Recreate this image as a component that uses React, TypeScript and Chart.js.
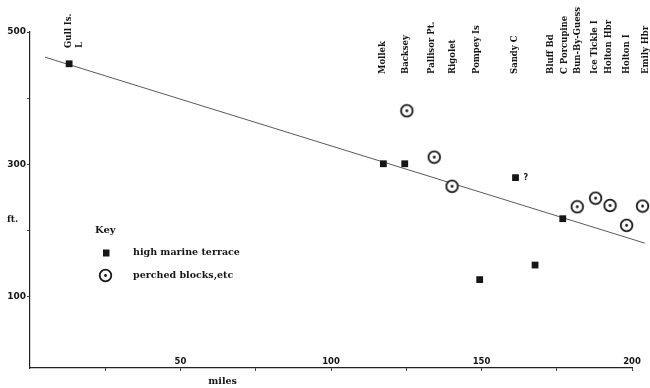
import { useEffect, useRef } from 'react';
import { Chart, registerables } from 'chart.js';

Chart.register(...registerables);

// Station labels along the top (miles along coast)
const stationNames = ['Gull Is.', 'L', 'Mollek', 'Backsey', 'Pallisor Pt.', 'Rigolet', 'Pompey Is', 'Sandy C', 'Bluff Bd', 'C Porcupine', 'Bun-By-Guess', 'Ice Tickle I', 'Holton Hbr', 'Holton I', 'Emily Hbr'];
const stationMiles = [13.0, 16.6, 117.3, 124.9, 133.6, 140.5, 148.5, 161.1, 173.1, 177.7, 182.1, 187.7, 192.4, 198.3, 204.6];

// High marine terrace (squares)
const terraceMiles = [13.0, 117.4, 124.5, 149.4, 161.3, 167.8, 177.0];
const terraceFeet = [452, 301, 301, 126, 280, 148, 218];

// Perched blocks, etc (ringed dots)
const blockMiles = [125.2, 134.3, 140.2, 181.8, 187.9, 192.7, 198.2, 203.5];
const blockFeet = [381, 311, 267, 236, 249, 238, 208, 237];

// Trend line
const trendMiles = [5.0, 204.3];
const trendFeet = [462, 181];

// Query mark
const queryMiles = [161.3];
const queryFeet = [280];
const queryText = ['?'];

const xTickValues = [25, 50, 75, 100, 125, 150, 175, 200];
const xTickLabels = ['', '50', '', '100', '', '150', '', '200'];
const yTickValues = [100, 200, 300, 400, 500];
const yTickLabels = ['100', '', '300', '', '500'];

const xTitle = 'miles';
const yTitle = 'ft.';
const legendTitle = 'Key';
const legendLabels = ['high marine terrace', 'perched blocks,etc'];

const INK = '#161616';

function makeRing(): HTMLCanvasElement {
  const c = document.createElement('canvas');
  c.width = 15;
  c.height = 15;
  const g = c.getContext('2d')!;
  g.fillStyle = '#ffffff';
  g.beginPath();
  g.arc(7.5, 7.5, 5.8, 0, Math.PI * 2);
  g.fill();
  g.lineWidth = 1.8;
  g.strokeStyle = INK;
  g.stroke();
  g.fillStyle = INK;
  g.beginPath();
  g.arc(7.5, 7.5, 1.4, 0, Math.PI * 2);
  g.fill();
  return c;
}

export default function App() {
  const ref = useRef<HTMLCanvasElement | null>(null);

  useEffect(() => {
    document.body.style.margin = '0';
    const canvas = ref.current;
    if (!canvas) return;
    const ring = makeRing();

    // let marks beyond the 200-mile axis end (as in the original) still be drawn
    let savedRight = 0;
    const overflow = {
      id: 'overflow',
      beforeDatasetsDraw(chart: any) {
        savedRight = chart.chartArea.right;
        chart.chartArea.right = chart.width;
      },
      afterDatasetsDraw(chart: any) {
        chart.chartArea.right = savedRight;
      },
    };

    const annotations = {
      id: 'annotations',
      afterDraw(chart: any) {
        const ctx: CanvasRenderingContext2D = chart.ctx;
        const xs = chart.scales.x;
        const ys = chart.scales.y;
        ctx.save();
        ctx.fillStyle = INK;

        // rotated station labels
        ctx.font = 'bold 8.5px "DejaVu Serif"';
        ctx.textAlign = 'left';
        ctx.textBaseline = 'middle';
        stationNames.forEach((name, i) => {
          const px = xs.getPixelForValue(stationMiles[i]);
          const bottom = stationMiles[i] < 50 ? 48 : 74;
          ctx.save();
          ctx.translate(px, bottom);
          ctx.rotate(-Math.PI / 2);
          ctx.fillText(name, 0, 0);
          ctx.restore();
        });

        // query mark
        ctx.font = 'bold 8px "DejaVu Sans"';
        queryText.forEach((t, i) => {
          ctx.fillText(t, xs.getPixelForValue(queryMiles[i]) + 8, ys.getPixelForValue(queryFeet[i]));
        });

        // axis titles
        ctx.font = 'bold 9px "DejaVu Serif"';
        ctx.textAlign = 'left';
        ctx.fillText(yTitle, 7, ys.getPixelForValue(216));
        ctx.textAlign = 'center';
        ctx.font = 'bold 9.5px "DejaVu Serif"';
        ctx.fillText(xTitle, xs.getPixelForValue(64), 382);

        // legend
        ctx.textAlign = 'left';
        ctx.font = 'bold 10px "DejaVu Serif"';
        ctx.fillText(legendTitle, 95, 230);
        ctx.fillRect(103, 249.5, 6.5, 7);
        ctx.drawImage(ring, 105.5 - 7.5, 275.5 - 7.5);
        ctx.font = 'bold 9.5px "DejaVu Serif"';
        ctx.fillText(legendLabels[0], 133, 253);
        ctx.fillText(legendLabels[1], 133, 275.5);
        ctx.restore();
      },
    };

    const chart = new Chart(canvas, {
      type: 'scatter',
      data: {
        datasets: [
          {
            label: legendLabels[1],
            data: blockMiles.map((m, i) => ({ x: m, y: blockFeet[i] })),
            pointStyle: ring as any,
            pointRadius: 7,
            clip: false as any,
          },
          {
            label: legendLabels[0],
            data: terraceMiles.map((m, i) => ({ x: m, y: terraceFeet[i] })),
            pointStyle: 'rect',
            pointRadius: 4.8,
            backgroundColor: INK,
            borderColor: INK,
            borderWidth: 0,
            clip: false as any,
          },
          {
            label: 'trend',
            data: trendMiles.map((m, i) => ({ x: m, y: trendFeet[i] })),
            showLine: true,
            pointRadius: 0,
            borderColor: '#5a5a5a',
            borderWidth: 1,
            clip: false as any,
          },
        ],
      },
      options: {
        animation: false,
        responsive: false,
        layout: { padding: { top: 32, right: 18, bottom: 0, left: 0 } },
        plugins: {
          legend: { display: false },
          tooltip: { enabled: false },
        },
        scales: {
          x: {
            type: 'linear',
            min: 0,
            max: 200,
            afterFit: (s: any) => {
              s.height = 20;
            },
            afterBuildTicks: (s: any) => {
              s.ticks = xTickValues.map((v) => ({ value: v }));
            },
            ticks: {
              callback: (_v: any, i: number) => xTickLabels[i],
              mirror: true,
              padding: 1.5,
              maxRotation: 0,
              autoSkip: false,
              color: INK,
              font: { family: 'DejaVu Sans', size: 8.5, weight: 'bold' },
            },
            grid: { drawOnChartArea: false, drawTicks: true, tickLength: 3, color: '#444' },
            border: { display: true, color: '#222', width: 1.2 },
          },
          y: {
            type: 'linear',
            min: -7.5,
            max: 500,
            afterFit: (s: any) => {
              s.width = 30;
            },
            afterBuildTicks: (s: any) => {
              s.ticks = yTickValues.map((v) => ({ value: v }));
            },
            ticks: {
              callback: (_v: any, i: number) => yTickLabels[i],
              padding: 1,
              autoSkip: false,
              color: INK,
              font: { family: 'DejaVu Sans', size: 9, weight: 'bold' },
            },
            grid: { drawOnChartArea: false, drawTicks: true, tickLength: 3, color: '#444' },
            border: { display: true, color: '#222', width: 1.2 },
          },
        },
      },
      plugins: [overflow, annotations],
    });

    return () => chart.destroy();
  }, []);

  return (
    <div style={{ width: 650, height: 388, background: '#fff' }}>
      <canvas ref={ref} width={650} height={388} style={{ display: 'block' }} />
    </div>
  );
}
